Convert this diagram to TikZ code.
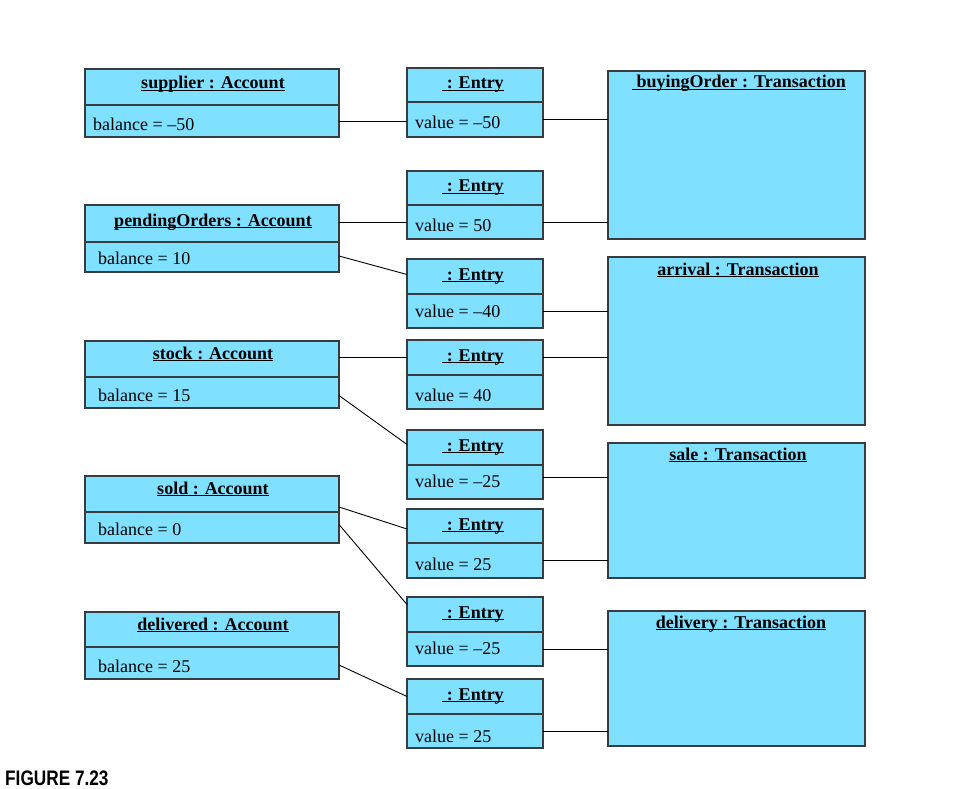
\documentclass[tikz,border=0pt]{standalone}
\usepackage{fontspec}
\setmainfont{Liberation Serif}
\newfontfamily\figfont[FakeStretch=0.82]{Liberation Sans}
\usetikzlibrary{calc}
\definecolor{boxfill}{RGB}{128,224,255}
\definecolor{boxline}{RGB}{55,60,65}
\newcommand\ulin[1]{\setbox0=\hbox{#1}\hbox{\rlap{\rule[-2.4pt]{\wd0}{1pt}}\box0}}
\begin{document}
\begin{tikzpicture}[x=1pt,y=-1pt,
  part/.style={draw=boxline, fill=boxfill, line width=1.1pt, inner sep=0pt, outer sep=0pt, anchor=north west},
  acc/.style={part, minimum width=254pt},
  ent/.style={part, minimum width=136pt},
  trn/.style={part, minimum width=257pt},
  ttl/.style={font=\fontsize{18}{20}\selectfont\bfseries, inner sep=0pt, anchor=base},
  val/.style={font=\fontsize{18}{20}\selectfont, inner sep=0pt, anchor=base west},
  link/.style={draw=black, line width=0.9pt}
]
\useasboundingbox (0,0) rectangle (962,789);

% ---------- Accounts ----------
\node[acc, minimum height=36pt] (supH) at (85,69) {};
\node[acc, minimum height=32pt] (supB) at (85,105) {};
\node[acc, minimum height=37pt] (penH) at (85,205) {};
\node[acc, minimum height=30pt] (penB) at (85,242) {};
\node[acc, minimum height=36pt] (stoH) at (85,341) {};
\node[acc, minimum height=31pt] (stoB) at (85,377) {};
\node[acc, minimum height=36pt] (solH) at (85,476) {};
\node[acc, minimum height=31pt] (solB) at (85,512) {};
\node[acc, minimum height=35pt] (delH) at (85,612) {};
\node[acc, minimum height=32pt] (delB) at (85,647) {};

\node[ttl] (supT) at (213,89) {\ulin{supplier : Account}};
\node[ttl] (penT) at (213,226) {\ulin{pendingOrders : Account}};
\node[ttl] (stoT) at (213,359) {\ulin{stock : Account}};
\node[ttl] (solT) at (213,494) {\ulin{sold : Account}};
\node[ttl] (delT) at (213,630) {\ulin{delivered : Account}};

\node[val] (supV) at (93,131) {balance = –50};
\node[val] (penV) at (98,264) {balance = 10};
\node[val] (stoV) at (98,401) {balance = 15};
\node[val] (solV) at (98,535) {balance = 0};
\node[val] (delV) at (98,672) {balance = 25};

% ---------- Entries ----------
\foreach \n/\t/\d/\b in {e1/68/102/137, e2/171/205/239, e3/259/294/328, e4/340/375/409,
                          e5/430/465/499, e6/509/543/578, e7/597/632/666, e8/679/714/748}{
  \pgfmathsetmacro\hh{\d-\t}
  \pgfmathsetmacro\bh{\b-\d}
  \node[ent, minimum height=\hh pt] (\n H) at (407,\t) {};
  \node[ent, minimum height=\bh pt] (\n B) at (407,\d) {};
  \pgfmathsetmacro\ty{\t+21}
  \node[ttl] (\n T) at (473,\ty) {\ulin{\ : Entry}};
}
\node[val] (e1V) at (415,129) {value = –50};
\node[val] (e2V) at (415,231) {value = 50};
\node[val] (e3V) at (415,317) {value = –40};
\node[val] (e4V) at (415,401) {value = 40};
\node[val] (e5V) at (415,487) {value = –25};
\node[val] (e6V) at (415,570) {value = 25};
\node[val] (e7V) at (415,654) {value = –25};
\node[val] (e8V) at (415,742) {value = 25};

% ---------- Transactions ----------
\node[trn, minimum height=168pt] (buy) at (608,71) {};
\node[trn, minimum height=168pt] (arr) at (608,257) {};
\node[trn, minimum height=135pt] (sal) at (608,443) {};
\node[trn, minimum height=135pt] (dly) at (608,611) {};
\node[ttl] (buyT) at (739,88) {\ulin{\ buyingOrder : Transaction}};
\node[ttl] (arrT) at (738,275) {\ulin{arrival : Transaction}};
\node[ttl] (salT) at (738,460) {\ulin{sale : Transaction}};
\node[ttl] (dlyT) at (741,628) {\ulin{delivery : Transaction}};

% ---------- Links ----------
\draw[link] (supB.east) -- (supB.east -| e1B.west);
\draw[link] (e1B.east) -- (e1B.east -| buy.west);
\draw[link] (e2B.west -| penH.east) -- (e2B.west);
\draw[link] (e2B.east) -- (e2B.east -| buy.west);
\draw[link] ([yshift=1pt]penB.east) -- ([yshift=2pt]e3H.west);
\draw[link] (e3B.east) -- (e3B.east -| arr.west);
\draw[link] (e4H.west -| stoH.east) -- (e4H.west);
\draw[link] (e4H.east) -- (e4H.east -| arr.west);
\draw[link] ([yshift=-3pt]stoB.east) -- ([yshift=3pt]e5H.west);
\draw[link] ([yshift=5pt]e5B.east) -- ([yshift=5pt]e5B.east -| sal.west);
\draw[link] ([yshift=5pt]solH.south east) -- ([yshift=-3pt]e6H.west);
\draw[link] ([yshift=3pt]solB.east) -- ([yshift=10pt]e7H.west);
\draw[link] (e6B.east) -- (e6B.east -| sal.west);
\draw[link] (e7B.east) -- (e7B.east -| dly.west);
\draw[link] ([yshift=-2pt]delB.east) -- (e8H.west);
\draw[link] (e8B.east) -- (e8B.east -| dly.west);

% ---------- Caption ----------
\node[font=\figfont\fontsize{21}{22}\selectfont\bfseries, inner sep=0pt, anchor=base west] (cap) at (5,785) {FIGURE 7.23};
\end{tikzpicture}
\end{document}
